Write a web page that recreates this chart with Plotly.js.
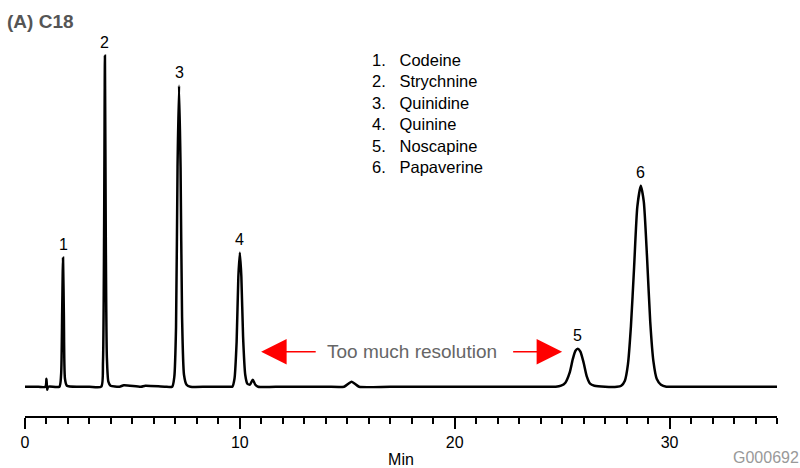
<!DOCTYPE html>
<html>
<head>
<meta charset="utf-8">
<script src="https://cdn.plot.ly/plotly-3.0.1.min.js"></script>
<style>html,body{margin:0;padding:0;background:#fff;}#chart{width:800px;height:468px;}</style>
</head>
<body>
<div id="chart"></div>
<script>
// Chromatogram trace (time in min, detector signal in arbitrary units)
const time = [
  0.00, 0.50, 0.95, 1.00, 1.03, 1.08, 1.60,
  1.68, 1.73, 1.77, 1.81, 1.86, 1.95, 2.50, 3.00,
  3.55, 3.63, 3.68, 3.72, 3.76, 3.81, 3.88, 3.98, 4.40, 4.60, 5.40, 5.60, 6.50,
  6.85, 6.95, 7.03, 7.10, 7.17, 7.24, 7.31, 7.40, 7.52, 7.70, 8.50, 9.50,
  9.65, 9.75, 9.85, 9.93, 10.00, 10.07, 10.15, 10.25, 10.35, 10.47, 10.60, 10.72, 10.85, 12.0, 14.0,
  14.85, 15.05, 15.20, 15.35, 15.55, 17.0, 20.0, 23.0, 24.7,
  24.95, 25.15, 25.35, 25.50, 25.62, 25.73, 25.85, 26.00, 26.15, 26.30, 26.50, 27.0, 27.55,
  27.75, 27.92, 28.06, 28.20, 28.35, 28.50, 28.66, 28.80, 28.95, 29.10, 29.25, 29.40, 29.60, 29.85,
  30.5, 32.0, 33.5, 35.0
];
const signal = [
  0, 0, 0, 8, -3, 0, 0,
  12, 75, 129, 70, 8, 1, 0, 0,
  0, 25, 150, 331, 150, 30, 5, 1, 0, 1.5, 0, 1, 0,
  0, 10, 60, 220, 301, 220, 70, 12, 2, 0, 0, 0,
  0, 8, 45, 110, 134, 110, 50, 12, 3, 2, 7, 2, 0, 0, 0,
  0, 3, 5, 3, 0, 0, 0, 0, 0,
  1, 4, 14, 28, 36, 38, 35, 24, 10, 3, 1, 0, 0,
  1, 6, 22, 60, 120, 180, 201, 185, 130, 65, 25, 8, 2, 0,
  0, 0, 0, 0
];

// Peaks
const peakNumbers = ['1', '2', '3', '4', '5', '6'];
const peakTimes = [1.77, 3.72, 7.17, 10.00, 25.73, 28.66];
const peakHeights = [129, 331, 301, 134, 38, 201];
const compounds = ['Codeine', 'Strychnine', 'Quinidine', 'Quinine', 'Noscapine', 'Papaverine'];

// Axis ticks
const majorTicks = [0, 10, 20, 30];
const majorTickLabels = ['0', '10', '20', '30'];

// "Too much resolution" arrows (tip, tail) in minutes, at this signal level
const arrowLevel = 35;
const leftArrow = [10.99, 13.6];
const rightArrow = [25.0, 22.65];
const noteTime = 18.03;

const FONT = 'Liberation Sans, Arial, Helvetica, sans-serif';
const W = 800, H = 468;
const margin = {l: 25, r: 23, t: 30, b: 52};
const plotW = W - margin.l - margin.r, plotH = H - margin.t - margin.b;
const px = v => (v - margin.l) / plotW;
const py = v => (H - margin.b - v) / plotH;

const annotations = [];
peakNumbers.forEach((n, i) => {
  annotations.push({
    x: peakTimes[i], y: peakHeights[i], xref: 'x', yref: 'y',
    text: n, showarrow: false, yanchor: 'bottom', yshift: 3,
    font: {family: FONT, size: 16, color: '#000'}
  });
});
[leftArrow, rightArrow].forEach(a => {
  annotations.push({
    x: a[0], y: arrowLevel, ax: a[1], ay: arrowLevel,
    xref: 'x', yref: 'y', axref: 'x', ayref: 'y', text: '',
    showarrow: true, arrowhead: 2, arrowsize: 3.4, arrowwidth: 1.5, arrowcolor: '#ff0000'
  });
});
annotations.push({
  x: noteTime, y: arrowLevel, xref: 'x', yref: 'y', text: 'Too much resolution',
  showarrow: false, font: {family: FONT, size: 19, color: '#666666'}
});
// Compound list
const listLines = compounds.map((c, i) => (i + 1) + '.&nbsp;&nbsp;&nbsp;' + c);
annotations.push({
  x: px(370), y: py(49), xref: 'paper', yref: 'paper', text: listLines.join('<br>'),
  showarrow: false, xanchor: 'left', yanchor: 'top', align: 'left',
  font: {family: FONT, size: 16.5, color: '#000'}
});
// Title
annotations.push({
  x: px(5), y: py(9), xref: 'paper', yref: 'paper', text: '<b>(A) C18</b>',
  showarrow: false, xanchor: 'left', yanchor: 'top',
  font: {family: FONT, size: 19, color: '#555555'}
});
// Figure code
annotations.push({
  x: px(801), y: py(468), xref: 'paper', yref: 'paper', text: 'G000692',
  showarrow: false, xanchor: 'right', yanchor: 'bottom',
  font: {family: FONT, size: 16, color: '#999999'}
});

const trace = {
  x: time, y: signal, type: 'scatter', mode: 'lines',
  line: {color: '#000', width: 2.5, shape: 'spline', smoothing: 0.6},
  hoverinfo: 'skip'
};

const layout = {
  width: W, height: H, margin: margin,
  paper_bgcolor: '#fff', plot_bgcolor: '#fff',
  showlegend: false,
  font: {family: FONT, color: '#000'},
  xaxis: {
    range: [0, 35], showgrid: false, zeroline: false,
    showline: true, linecolor: '#000', linewidth: 2,
    tickmode: 'array', tickvals: majorTicks, ticktext: majorTickLabels,
    ticks: 'outside', ticklen: 11, tickwidth: 2, tickcolor: '#000',
    minor: {dtick: 1, tick0: 0, ticks: 'outside', ticklen: 6, tickwidth: 2, tickcolor: '#000', showgrid: false},
    tickfont: {family: FONT, size: 16, color: '#000'},
    title: {text: 'Min', font: {family: FONT, size: 16, color: '#000'}, standoff: 4},
    fixedrange: true
  },
  yaxis: {range: [-29.3, 356.7], visible: false, fixedrange: true},
  annotations: annotations
};

Plotly.newPlot('chart', [trace], layout, {displayModeBar: false, staticPlot: true});
</script>
</body>
</html>
